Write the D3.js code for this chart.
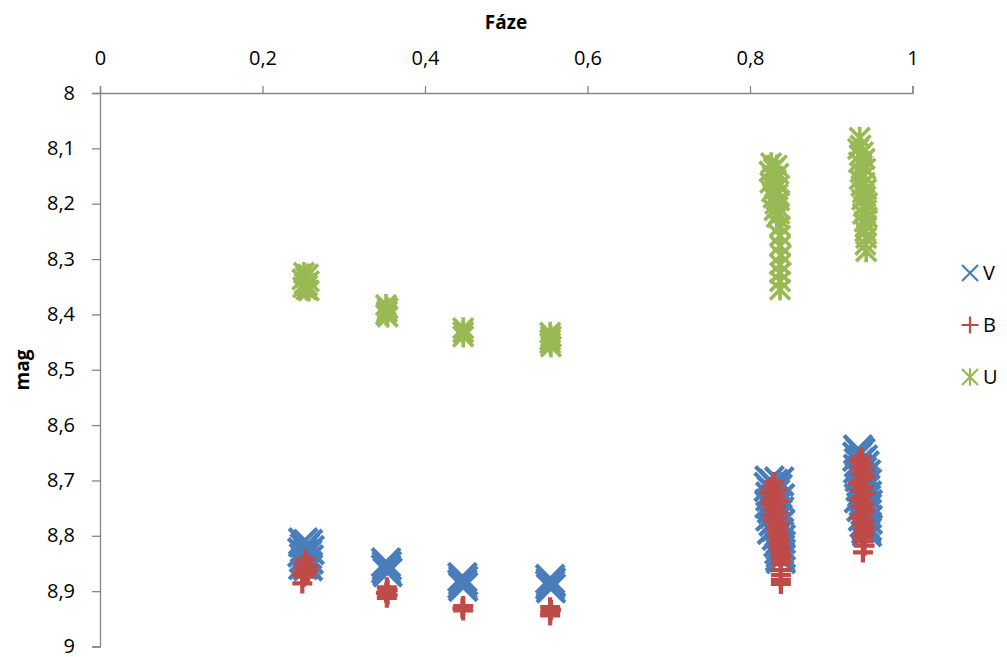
<!DOCTYPE html>
<html>
<head>
<meta charset="utf-8">
<script src="https://cdn.jsdelivr.net/npm/d3@7"></script>
<style>
  body { margin: 0; background: #fff; }
  text { font-family: "Open Sans", "Liberation Sans", sans-serif; fill: #000; }
</style>
</head>
<body>
<svg id="chart" width="1007" height="657"></svg>
<script>
// phase / magnitude measurements, one array per filter
let vData = [
  [0.250,8.812],[0.256,8.815],[0.252,8.822],[0.258,8.826],[0.249,8.830],[0.255,8.834],[0.251,8.840],[0.257,8.843],[0.253,8.848],[0.250,8.853],[0.256,8.855],
  [0.352,8.848],[0.353,8.854],[0.352,8.860],[0.354,8.866],
  [0.446,8.875],[0.447,8.881],[0.446,8.887],[0.447,8.892],
  [0.554,8.878],[0.555,8.884],[0.554,8.889],[0.555,8.895],
  [0.824,8.700],[0.836,8.702],[0.829,8.706],[0.823,8.712],[0.834,8.715],[0.827,8.719],[0.831,8.724],[0.825,8.729],[0.837,8.732],[0.829,8.737],
  [0.824,8.742],[0.833,8.746],[0.827,8.751],[0.836,8.755],[0.830,8.760],[0.825,8.765],[0.834,8.769],[0.829,8.774],[0.837,8.779],[0.832,8.784],
  [0.827,8.789],[0.836,8.794],[0.833,8.800],[0.838,8.806],[0.835,8.812],[0.838,8.818],[0.836,8.825],[0.838,8.832],[0.837,8.838],[0.838,8.842],
  [0.933,8.644],[0.936,8.650],[0.932,8.657],[0.939,8.662],[0.934,8.668],[0.941,8.673],[0.933,8.679],[0.938,8.684],[0.943,8.689],[0.935,8.694],
  [0.940,8.700],[0.944,8.705],[0.936,8.711],[0.942,8.716],[0.938,8.722],[0.944,8.727],[0.934,8.732],[0.940,8.738],[0.945,8.743],[0.937,8.748],
  [0.942,8.754],[0.944,8.760],[0.939,8.765],[0.945,8.771],[0.941,8.777],[0.944,8.783],[0.943,8.788],[0.944,8.793]
];

let bData = [
  [0.253,8.842],[0.250,8.852],[0.257,8.855],[0.252,8.860],[0.256,8.864],[0.249,8.867],[0.254,8.870],[0.251,8.874],[0.249,8.886],
  [0.353,8.893],[0.354,8.898],[0.352,8.903],[0.354,8.907],[0.353,8.912],
  [0.447,8.927],[0.446,8.931],[0.447,8.935],
  [0.554,8.929],[0.555,8.934],[0.554,8.938],[0.554,8.944],
  [0.830,8.703],[0.826,8.712],[0.834,8.716],[0.824,8.722],[0.831,8.727],[0.827,8.733],[0.836,8.737],[0.825,8.742],[0.832,8.748],[0.828,8.753],
  [0.835,8.758],[0.826,8.763],[0.833,8.768],[0.829,8.773],[0.836,8.779],[0.831,8.784],[0.834,8.790],[0.837,8.796],[0.833,8.802],[0.837,8.808],
  [0.835,8.815],[0.838,8.822],[0.836,8.828],[0.838,8.835],[0.838,8.842],[0.838,8.851],[0.838,8.862],[0.838,8.871],[0.838,8.880],[0.838,8.887],
  [0.937,8.658],[0.934,8.665],[0.940,8.670],[0.935,8.676],[0.941,8.682],[0.936,8.688],[0.942,8.694],[0.937,8.700],[0.933,8.706],[0.940,8.712],
  [0.936,8.718],[0.942,8.724],[0.938,8.730],[0.934,8.736],[0.941,8.742],[0.937,8.748],[0.942,8.754],[0.939,8.760],[0.935,8.766],[0.941,8.772],
  [0.938,8.778],[0.942,8.784],[0.939,8.790],[0.941,8.797],[0.938,8.803],[0.940,8.810],[0.941,8.818],[0.939,8.830]
];

let uData = [
  [0.251,8.325],[0.256,8.328],[0.253,8.333],[0.249,8.337],[0.257,8.340],[0.252,8.344],[0.255,8.348],[0.250,8.351],[0.254,8.355],[0.257,8.357],
  [0.352,8.383],[0.354,8.389],[0.353,8.395],[0.352,8.400],[0.354,8.404],
  [0.447,8.425],[0.447,8.432],[0.447,8.440],
  [0.554,8.433],[0.555,8.440],[0.554,8.446],[0.554,8.452],[0.555,8.458],
  [0.826,8.127],[0.833,8.131],[0.829,8.137],[0.824,8.142],[0.835,8.146],[0.828,8.151],[0.832,8.157],[0.825,8.162],[0.836,8.167],[0.830,8.172],
  [0.827,8.178],[0.834,8.183],[0.829,8.189],[0.836,8.194],[0.831,8.200],[0.834,8.206],[0.830,8.212],[0.836,8.218],[0.833,8.224],
  [0.837,8.241],[0.837,8.258],[0.837,8.276],[0.838,8.293],[0.837,8.310],[0.837,8.325],[0.837,8.340],[0.837,8.355],
  [0.935,8.081],[0.936,8.095],[0.933,8.101],[0.939,8.107],[0.935,8.113],[0.941,8.119],[0.934,8.125],[0.938,8.131],[0.942,8.137],[0.936,8.143],
  [0.940,8.150],[0.935,8.156],[0.941,8.162],[0.937,8.168],[0.943,8.174],[0.939,8.180],[0.942,8.187],[0.938,8.193],[0.944,8.199],[0.940,8.205],
  [0.943,8.212],[0.939,8.218],[0.944,8.225],[0.941,8.232],[0.943,8.240],[0.942,8.250],[0.943,8.262],[0.942,8.274],[0.943,8.286]
];

let xTicks = [0, 0.2, 0.4, 0.6, 0.8, 1];
let yTicks = [8, 8.1, 8.2, 8.3, 8.4, 8.5, 8.6, 8.7, 8.8, 8.9, 9];
let seriesNames = ['V', 'B', 'U'];
let seriesColors = ['#4a7ebb', '#be4b48', '#98b954'];

let svg = d3.select('#chart');
let margin = {left: 100, top: 93, right: 95, bottom: 10};
let plotW = 812.5;
let plotH = 553.5;

let x = d3.scaleLinear().domain([0, 1]).range([0, plotW]);
let y = d3.scaleLinear().domain([8, 9]).range([0, plotH]);

let fmt = d => String(+d.toFixed(1)).replace('.', ',');

let g = svg.append('g')
    .attr('transform', `translate(${margin.left}, ${margin.top})`);

// marker shapes
function xMark(h) { return `M${-h},${-h}L${h},${h}M${-h},${h}L${h},${-h}`; }
function plusMark(h) { return `M${-h},0L${h},0M0,${-h}L0,${h}`; }
function starMark(h) { return `M${-h},${-h}L${h},${h}M${-h},${h}L${h},${-h}M0,${-h * 1.1}L0,${h * 1.1}`; }

let markers = [
  {data: vData, path: xMark(14), color: seriesColors[0], w: 4.2},
  {data: bData, path: plusMark(10), color: seriesColors[1], w: 4.2},
  {data: uData, path: starMark(10), color: seriesColors[2], w: 3.6}
];

markers.forEach(s => {
  g.append('g')
    .selectAll('path')
    .data(s.data)
    .join('path')
    .attr('transform', d => `translate(${x(d[0])}, ${y(d[1])})`)
    .attr('d', s.path)
    .attr('fill', 'none')
    .attr('stroke', s.color)
    .attr('stroke-width', s.w)
    .attr('stroke-linecap', 'butt');
});

// axes
let xAxis = g.append('g')
    .call(d3.axisTop(x).tickValues(xTicks).tickSize(7).tickFormat(fmt));
let yAxis = g.append('g')
    .call(d3.axisLeft(y).tickValues(yTicks).tickSize(8).tickFormat(fmt));

[xAxis, yAxis].forEach(a => {
  a.selectAll('path, line').attr('stroke', '#868686').attr('stroke-width', 1.3);
  a.selectAll('text')
    .style('font-family', '"Open Sans", sans-serif')
    .style('font-size', '20px')
    .attr('fill', '#000');
});
xAxis.selectAll('text').attr('y', -28).attr('dy', 0);
yAxis.selectAll('text').attr('x', -25).attr('dy', '0.3em');

// axis titles
svg.append('text')
    .attr('x', 506)
    .attr('y', 29)
    .attr('text-anchor', 'middle')
    .style('font-size', '19px')
    .style('font-weight', 'bold')
    .text('Fáze');

svg.append('text')
    .attr('transform', 'translate(29, 370) rotate(-90)')
    .attr('text-anchor', 'middle')
    .style('font-size', '19px')
    .style('font-weight', 'bold')
    .text('mag');

// legend
let legendPaths = [xMark(8), plusMark(8.5), starMark(8)];
let legend = svg.append('g').attr('transform', 'translate(970, 0)');
seriesNames.forEach((name, i) => {
  let ly = 273 + i * 52;
  legend.append('path')
    .attr('transform', `translate(0, ${ly})`)
    .attr('d', legendPaths[i])
    .attr('fill', 'none')
    .attr('stroke', seriesColors[i])
    .attr('stroke-width', 2.2);
  legend.append('text')
    .attr('x', 13)
    .attr('y', ly)
    .attr('dy', '0.35em')
    .style('font-size', '20px')
    .text(name);
});
</script>
</body>
</html>
